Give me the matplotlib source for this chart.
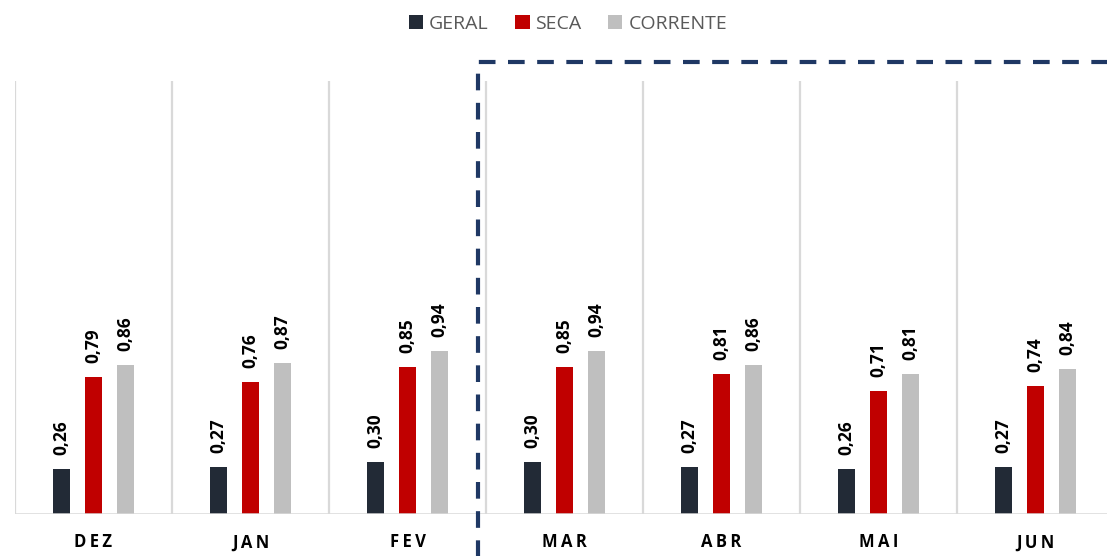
import matplotlib.pyplot as plt
import numpy as np

# data
meses = ['DEZ', 'JAN', 'FEV', 'MAR', 'ABR', 'MAI', 'JUN']
geral = [0.26, 0.27, 0.30, 0.30, 0.27, 0.26, 0.27]
seca = [0.79, 0.76, 0.85, 0.85, 0.81, 0.71, 0.74]
corrente = [0.86, 0.87, 0.94, 0.94, 0.86, 0.81, 0.84]

cores = ['#222a36', '#c00000', '#bfbfbf']
nomes = ['GERAL', 'SECA', 'CORRENTE']

plt.rcParams['font.family'] = ['Open Sans', 'DejaVu Sans']

fig = plt.figure(figsize=(11.07, 5.56), dpi=100)
W, H = 1107, 556
left, right, top, bottom = 15, 1107, 81, 514
ax = fig.add_axes([left / W, 1 - bottom / H, (right - left) / W, (bottom - top) / H])

x = np.arange(len(meses))
off = 0.204
bw = 0.108
for k, serie in enumerate([geral, seca, corrente]):
    xs = x + (k - 1) * off
    ax.bar(xs, serie, width=bw, color=cores[k], label=nomes[k], zorder=3)
    for xi, v in zip(xs, serie):
        ax.annotate(f'{v:.2f}'.replace('.', ','), (xi, v), xytext=(0, 10),
                    textcoords='offset points', rotation=90, ha='center', va='bottom',
                    fontsize=12.5, fontweight='bold', color='black')

ax.set_xlim(-0.5, -0.5 + (right - left) / 157)
ax.set_ylim(0, 2.5)

# separadores verticais
for b in np.arange(-0.5, 7, 1):
    ax.axvline(b, color='#d9d9d9', lw=1.6, zorder=1)
ax.axhline(0, color='#d9d9d9', lw=1.8, zorder=4)

for s in ax.spines.values():
    s.set_visible(False)
ax.set_yticks([])
ax.set_xticks(x)
ax.set_xticklabels(['\u2009'.join(m) for m in meses], fontsize=12, fontweight='bold')
ax.tick_params(axis='x', length=0, pad=14)

# caixa tracejada
xd = 2.45
ax.plot([xd, xd, 7.2], [-0.3, 2.61, 2.61], color='#1f3864', lw=3, ls=(0, (4, 3)),
        clip_on=False, zorder=5)

leg = fig.legend(loc='upper center', bbox_to_anchor=(0.513, 1.005), ncol=3, frameon=False,
                 fontsize=14, handlelength=0.75, handleheight=0.75, handletextpad=0.3,
                 columnspacing=1.35, labelcolor='#595959')

fig.savefig('out.png', dpi=100)
